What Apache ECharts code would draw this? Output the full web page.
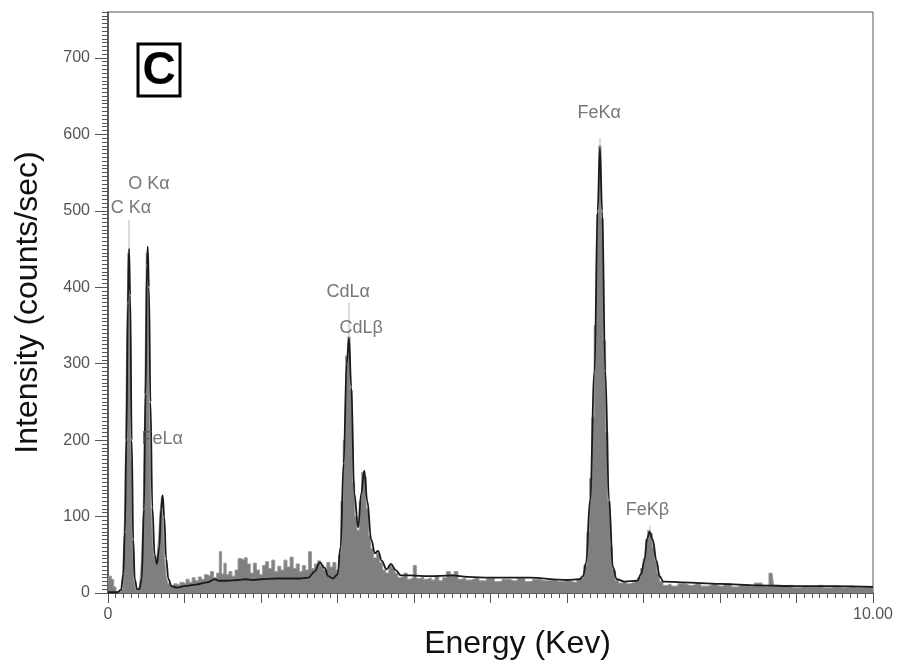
<!DOCTYPE html>
<html>
  <head>
    <meta charset="utf-8" />
    <title>EDS spectrum</title>
    <script src="https://cdn.jsdelivr.net/npm/echarts@6/dist/echarts.min.js"></script>
    <style>
      html, body { margin: 0; padding: 0; background: #fff; }
    </style>
  </head>
  <body>
    <div id="main" style="width: 898px;height: 666px;"></div>
    <script type="text/javascript">
      var counts = [
        [0.00,16],[0.03,22],[0.06,18],[0.09,8],[0.12,2],[0.15,2],[0.18,5],[0.21,35],[0.23,110],[0.25,290],
        [0.27,445],[0.29,380],[0.31,200],[0.33,70],[0.35,15],[0.37,5],[0.40,4],[0.43,12],[0.45,45],[0.47,110],
        [0.49,245],[0.51,445],[0.53,420],[0.55,250],[0.57,120],[0.59,70],[0.61,48],[0.63,40],[0.65,45],[0.67,70],
        [0.69,105],[0.71,127],[0.73,100],[0.75,45],[0.77,22],[0.80,12],[0.84,9],[0.88,12],[0.92,10],[0.96,14],
        [1.00,12],[1.04,18],[1.08,14],[1.12,20],[1.16,16],[1.20,21],[1.24,18],[1.28,24],[1.32,22],[1.36,28],
        [1.40,20],[1.44,26],[1.47,54],[1.50,25],[1.53,39],[1.56,24],[1.60,28],[1.64,22],[1.68,30],[1.72,45],
        [1.76,43],[1.80,46],[1.84,38],[1.88,26],[1.92,39],[1.96,30],[2.00,24],[2.04,36],[2.08,41],[2.12,32],
        [2.16,43],[2.20,28],[2.24,35],[2.28,30],[2.32,43],[2.36,34],[2.40,47],[2.44,32],[2.48,38],[2.52,28],
        [2.56,36],[2.60,30],[2.64,54],[2.68,32],[2.72,38],[2.76,42],[2.80,36],[2.84,30],[2.88,40],[2.92,34],
        [2.96,40],[3.00,30],[3.03,50],[3.06,120],[3.09,200],[3.12,310],[3.15,335],[3.18,265],[3.21,145],[3.24,100],
        [3.27,82],[3.30,120],[3.33,158],[3.36,152],[3.39,110],[3.42,75],[3.45,58],[3.49,46],[3.53,52],[3.57,40],
        [3.61,30],[3.65,26],[3.69,36],[3.73,33],[3.77,26],[3.81,20],[3.85,22],[3.89,26],[3.93,18],[3.97,20],
        [4.01,36],[4.05,19],[4.10,21],[4.15,18],[4.20,20],[4.25,17],[4.30,22],[4.35,16],[4.40,20],[4.45,28],
        [4.50,24],[4.55,28],[4.60,18],[4.65,20],[4.70,17],[4.80,19],[4.90,16],[5.00,19],[5.10,15],[5.20,18],
        [5.30,16],[5.40,19],[5.50,15],[5.60,18],[5.70,16],[5.80,17],[5.90,15],[6.00,16],[6.10,14],[6.16,17],
        [6.20,20],[6.24,36],[6.28,80],[6.31,150],[6.34,230],[6.37,350],[6.40,495],[6.43,585],[6.46,490],[6.49,330],
        [6.52,210],[6.55,120],[6.58,60],[6.61,30],[6.65,16],[6.70,13],[6.75,15],[6.80,12],[6.85,14],[6.90,15],
        [6.94,20],[6.98,32],[7.01,45],[7.04,70],[7.07,82],[7.10,78],[7.13,60],[7.16,42],[7.19,26],[7.23,15],
        [7.28,10],[7.35,12],[7.40,9],[7.50,12],[7.60,10],[7.70,12],[7.80,9],[7.90,11],[8.00,9],[8.10,12],
        [8.20,8],[8.30,11],[8.40,9],[8.50,13],[8.60,9],[8.68,26],[8.72,10],[8.80,9],[8.90,10],[9.00,7],
        [9.10,9],[9.20,8],[9.30,10],[9.40,7],[9.50,9],[9.60,7],[9.70,9],[9.80,7],[9.90,8],[10.0,8]
      ];

      // fitted curve (black line)
      var fitLine = [
        [0.00,1],[0.12,1],[0.17,4],[0.20,25],[0.22,80],[0.24,200],[0.26,380],[0.275,450],[0.29,390],[0.31,200],
        [0.33,70],[0.35,18],[0.38,5],[0.41,5],[0.44,18],[0.47,110],[0.49,260],[0.51,430],[0.52,453],[0.535,400],
        [0.555,250],[0.58,112],[0.61,50],[0.64,38],[0.67,60],[0.695,110],[0.715,128],[0.735,100],[0.76,45],[0.79,18],
        [0.83,9],[0.90,7],[1.00,9],[1.15,11],[1.30,14],[1.40,18],[1.45,16],[1.55,16],[1.70,17],[1.80,18],
        [1.90,17],[2.00,18],[2.20,19],[2.50,19],[2.62,20],[2.70,28],[2.77,40],[2.83,33],[2.88,22],[2.94,19],
        [3.00,24],[3.04,60],[3.08,170],[3.12,300],[3.15,333],[3.18,270],[3.22,130],[3.27,86],[3.31,130],[3.35,160],
        [3.39,120],[3.44,70],[3.49,52],[3.53,55],[3.58,42],[3.64,31],[3.70,38],[3.76,30],[3.83,23],[3.95,23],
        [4.20,22],[4.50,23],[4.70,21],[5.00,20],[5.50,20],[6.00,17],[6.16,18],[6.21,22],[6.25,40],[6.30,121],
        [6.36,291],[6.40,500],[6.43,582],[6.46,500],[6.50,291],[6.55,121],[6.60,34],[6.65,18],[6.75,15],[6.92,16],
        [6.97,25],[7.01,42],[7.05,72],[7.08,80],[7.12,70],[7.17,42],[7.21,22],[7.26,15],[7.50,14],[8.00,12],
        [8.50,10],[9.00,9],[9.50,9],[10.0,8]
      ];

      // peak labels
      var peakNames = ['C K\u03b1', 'O K\u03b1', 'FeL\u03b1', 'CdL\u03b1', 'CdL\u03b2', 'FeK\u03b1', 'FeK\u03b2'];
      var peakLabelE = [0.30, 0.536, 0.71, 3.14, 3.31, 6.42, 7.05];
      var peakLabelI = [503, 535, 201, 394, 346, 628, 108];

      // light marker lines above identified peaks
      var markerE = [0.275, 3.15, 6.43, 7.08];
      var markerTop = [488, 380, 595, 88];

      var yTicks = [0, 100, 200, 300, 400, 500, 600, 700];

      var font = "'Liberation Sans', Arial, sans-serif";
      var myChart = echarts.init(document.getElementById('main'));

      var option = {
        animation: false,
        backgroundColor: '#fff',
        grid: {
          left: 108, right: 25, top: 12, bottom: 73,
          show: true, borderColor: '#555', borderWidth: 1
        },
        xAxis: {
          type: 'value',
          min: 0, max: 10, interval: 1,
          name: 'Energy (Kev)',
          nameLocation: 'middle',
          nameGap: 28,
          nameTextStyle: { fontFamily: font, fontSize: 32, color: '#111', padding: [0, 0, 0, 54] },
          axisLine: { lineStyle: { color: '#444', width: 1.5 } },
          axisTick: { length: 10, lineStyle: { color: '#555' } },
          minorTick: { show: true, splitNumber: 10, length: 5, lineStyle: { color: '#555' } },
          splitLine: { show: false },
          axisLabel: {
            margin: 14, fontFamily: font, fontSize: 16, color: '#555',
            formatter: function (v) { return v === 0 ? '0' : (v === 10 ? '10.00' : ''); }
          }
        },
        yAxis: [
          {
            type: 'value',
            min: 0, max: 760, interval: 100,
            name: 'Intensity (counts/sec)',
            nameLocation: 'middle',
            nameGap: 64,
            nameTextStyle: { fontFamily: font, fontSize: 32, color: '#111' },
            axisLine: { show: true, lineStyle: { color: '#444', width: 1.5 } },
            axisTick: { show: true, length: 13, customValues: yTicks, lineStyle: { color: '#555' } },
            splitLine: { show: false },
            axisLabel: { margin: 18, fontFamily: font, fontSize: 16, color: '#555', customValues: yTicks }
          },
          {
            type: 'value',
            min: 0, max: 760, interval: 5,
            position: 'left',
            axisLine: { show: false },
            axisTick: { show: true, length: 6, lineStyle: { color: '#555' } },
            axisLabel: { show: false },
            splitLine: { show: false }
          }
        ],
        graphic: [
          {
            type: 'rect', z: 50,
            shape: { x: 138, y: 44, width: 42, height: 52 },
            style: { fill: '#fff', stroke: '#000', lineWidth: 3 }
          },
          {
            type: 'text', z: 51, x: 159, y: 71,
            style: {
              text: 'C', fontFamily: font, fontWeight: 'bold', fontSize: 46,
              fill: '#000', align: 'center', verticalAlign: 'middle'
            }
          }
        ],
        series: [
          {
            type: 'line',
            z: 1,
            data: [],
            markLine: {
              z: 1,
              silent: true,
              symbol: ['none', 'none'],
              label: { show: false },
              lineStyle: { color: '#cfcfcf', width: 1.5, type: 'solid' },
              data: markerE.map(function (e, i) {
                return [{ coord: [e, 0] }, { coord: [e, markerTop[i]] }];
              })
            }
          },
          {
            type: 'line',
            z: 2,
            step: 'middle',
            showSymbol: false,
            data: counts,
            lineStyle: { color: '#9c9c9c', width: 1 },
            areaStyle: { color: '#7f7f7f', opacity: 1 }
          },
          {
            type: 'line',
            z: 3,
            smooth: 0.4,
            smoothMonotone: 'x',
            showSymbol: false,
            data: fitLine,
            lineStyle: { color: '#1a1a1a', width: 1.8 }
          },
          {
            type: 'scatter',
            z: 4,
            symbolSize: 1,
            itemStyle: { color: 'rgba(0,0,0,0)' },
            data: peakNames.map(function (n, i) {
              return { name: n, value: [peakLabelE[i], peakLabelI[i]] };
            }),
            label: {
              show: true, position: 'inside',
              fontFamily: font, fontSize: 18, color: '#555',
              formatter: function (p) { return p.name; }
            }
          }
        ]
      };
      myChart.setOption(option);
    </script>
  </body>
</html>
